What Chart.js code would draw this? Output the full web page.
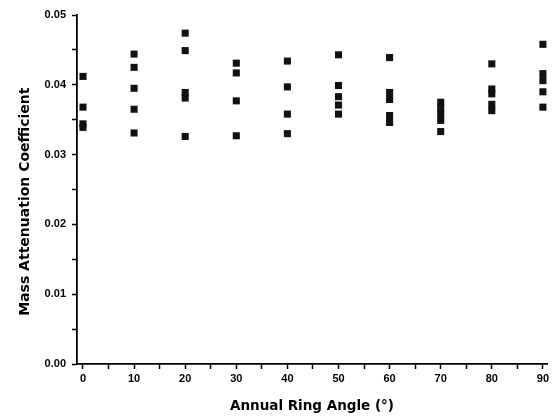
<!DOCTYPE html>
<html>
<head>
<meta charset="utf-8">
<script src="https://cdn.jsdelivr.net/npm/chart.js@4/dist/chart.umd.min.js"></script>
<style>
  html, body { margin: 0; padding: 0; background: #fff; }
  #wrap { position: relative; width: 559px; height: 417px; }
</style>
</head>
<body>
<div id="wrap"><canvas id="massChart"></canvas></div>
<script>
// annual ring angles (deg) and the measured coefficients at each angle
const angles = [0, 10, 20, 30, 40, 50, 60, 70, 80, 90];
const coef0 = [0.0412, 0.0368, 0.0344, 0.0339];
const coef10 = [0.0444, 0.0425, 0.0395, 0.0365, 0.0331];
const coef20 = [0.0474, 0.0449, 0.0389, 0.0381, 0.0326];
const coef30 = [0.0431, 0.0417, 0.0377, 0.0327];
const coef40 = [0.0434, 0.0397, 0.0358, 0.0330];
const coef50 = [0.0443, 0.0399, 0.0383, 0.0371, 0.0358];
const coef60 = [0.0439, 0.0389, 0.0379, 0.0356, 0.0346];
const coef70 = [0.0375, 0.0367, 0.0358, 0.0349, 0.0333];
const coef80 = [0.0430, 0.0394, 0.0387, 0.0372, 0.0363];
const coef90 = [0.0458, 0.0416, 0.0406, 0.0390, 0.0368];
const coefByAngle = [coef0, coef10, coef20, coef30, coef40, coef50, coef60, coef70, coef80, coef90];

const xTickValues = [0, 5, 10, 15, 20, 25, 30, 35, 40, 45, 50, 55, 60, 65, 70, 75, 80, 85, 90];
const yTickValues = [0, 0.005, 0.01, 0.015, 0.02, 0.025, 0.03, 0.035, 0.04, 0.045, 0.05];

const points = [];
angles.forEach((a, i) => {
    coefByAngle[i].forEach(v => points.push({ x: a, y: v }));
});

const tickFont = { family: "'Liberation Sans', Arial, sans-serif", size: 11, weight: 'bold' };

const axisGrid = {
    drawOnChartArea: false,
    drawTicks: true,
    tickLength: 5,
    tickColor: '#000',
    tickWidth: 1.5,
};
const axisBorder = { display: true, color: '#000', width: 1.8 };

new Chart(document.getElementById('massChart'), {
    type: 'scatter',
    data: {
        datasets: [{
            data: points,
            pointStyle: 'rect',
            pointRadius: 5,
            pointBorderWidth: 0,
            backgroundColor: '#111',
            borderColor: '#111',
            clip: false,
        }],
    },
    options: {
        responsive: true,
        maintainAspectRatio: false,
        animation: false,
        layout: { padding: { top: 15, right: 12, left: 0, bottom: 0 } },
        plugins: {
            legend: { display: false },
            tooltip: { enabled: false },
        },
        scales: {
            x: {
                type: 'linear',
                min: -1.17,
                max: 90.8,
                afterBuildTicks: (scale) => { scale.ticks = xTickValues.map(v => ({ value: v })); },
                afterFit: (scale) => { scale.height = 53; },
                grid: axisGrid,
                border: axisBorder,
                ticks: {
                    autoSkip: false,
                    maxRotation: 0,
                    padding: 3,
                    color: '#000',
                    font: tickFont,
                    callback: (v) => (v % 10 === 0 ? String(v) : ''),
                },
                title: {
                    display: true,
                    text: 'Annual Ring Angle (°)',
                    color: '#000',
                    font: { family: "'DejaVu Sans', sans-serif", size: 13.5, weight: 'bold' },
                    padding: { top: 0, bottom: 2 },
                },
            },
            y: {
                type: 'linear',
                min: 0,
                max: 0.05,
                afterBuildTicks: (scale) => { scale.ticks = yTickValues.map(v => ({ value: v })); },
                afterFit: (scale) => { scale.width = 77; },
                grid: axisGrid,
                border: axisBorder,
                ticks: {
                    autoSkip: false,
                    padding: 6,
                    color: '#000',
                    font: tickFont,
                    callback: (v) => (Math.round(v * 1000) % 10 === 0 ? v.toFixed(2) : ''),
                },
                title: {
                    display: true,
                    // trailing no-break spaces nudge the label down a little, as in the original
                    text: 'Mass Attenuation Coefficient\u00a0\u00a0\u00a0\u00a0\u00a0',
                    color: '#000',
                    font: { family: "'DejaVu Sans', sans-serif", size: 14, weight: 'bold' },
                    padding: { top: 17, bottom: 0 },
                },
            },
        },
    },
});
</script>
</body>
</html>
